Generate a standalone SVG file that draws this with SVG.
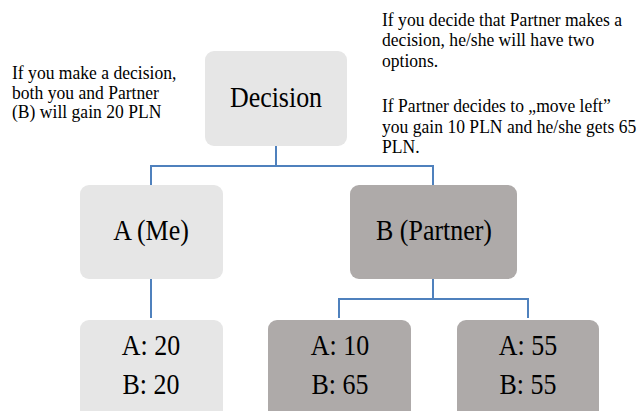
<svg xmlns="http://www.w3.org/2000/svg" width="641" height="411" viewBox="0 0 641 411">
<style>
.light{fill:#e6e6e6}
.dark{fill:#aeaaa9}
.lbl{font-family:"Liberation Serif","Times New Roman",serif;font-size:28.5px;fill:#000;text-anchor:middle}
.note{font-family:"Liberation Serif","Times New Roman",serif;font-size:19px;fill:#000}
.conn{fill:none;stroke:#4f81bd;stroke-width:2}
</style>
<rect width="641" height="411" fill="#fff"/>
<g id="connectors">
<polyline class="conn" points="276,146 276,166 151,166 151,185"/>
<polyline class="conn" points="276,166 433,166 433,185"/>
<line class="conn" x1="151" y1="279" x2="151" y2="318"/>
<polyline class="conn" points="433,279 433,299 339,299 339,318"/>
<polyline class="conn" points="433,299 528,299 528,318"/>
</g>
<g id="decision">
<rect class="light" x="205" y="51" width="142" height="95" rx="9"/>
<text class="lbl" transform="translate(276 107) scale(0.91 1)">Decision</text>
</g>
<g id="a-me">
<rect class="light" x="80" y="185" width="143" height="94" rx="9"/>
<text class="lbl" transform="translate(151 240) scale(0.91 1)">A (Me)</text>
</g>
<g id="b-partner">
<rect class="dark" x="350" y="185" width="167" height="94" rx="9"/>
<text class="lbl" transform="translate(434 240) scale(0.91 1)">B (Partner)</text>
</g>
<g id="leaf-me">
<rect class="light" x="80" y="320" width="143" height="100" rx="9"/>
<text class="lbl" transform="translate(151 355) scale(0.91 1)">A: 20</text>
<text class="lbl" transform="translate(151 394) scale(0.91 1)">B: 20</text>
</g>
<g id="leaf-left">
<rect class="dark" x="268" y="320" width="143" height="100" rx="9"/>
<text class="lbl" transform="translate(340 355) scale(0.91 1)">A: 10</text>
<text class="lbl" transform="translate(340 394) scale(0.91 1)">B: 65</text>
</g>
<g id="leaf-right">
<rect class="dark" x="457" y="320" width="142" height="100" rx="9"/>
<text class="lbl" transform="translate(528 355) scale(0.91 1)">A: 55</text>
<text class="lbl" transform="translate(528 394) scale(0.91 1)">B: 55</text>
</g>
<g id="note-left">
<text class="note" transform="translate(12 79) scale(0.925 1)">If you make a decision,</text>
<text class="note" transform="translate(12 99) scale(0.925 1)">both you and Partner</text>
<text class="note" transform="translate(12 118) scale(0.925 1)">(B) will gain 20 PLN</text>
</g>
<g id="note-right">
<text class="note" transform="translate(382 26) scale(0.925 1)">If you decide that Partner makes a</text>
<text class="note" transform="translate(382 46) scale(0.925 1)">decision, he/she will have two</text>
<text class="note" transform="translate(382 67) scale(0.925 1)">options.</text>
<text class="note" transform="translate(382 112) scale(0.925 1)">If Partner decides to „move left”</text>
<text class="note" transform="translate(382 133) scale(0.925 1)">you gain 10 PLN and he/she gets 65</text>
<text class="note" transform="translate(382 153) scale(0.925 1)">PLN.</text>
</g>
</svg>
